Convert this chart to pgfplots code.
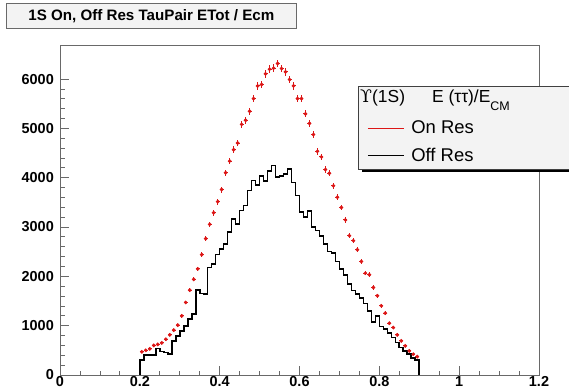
\documentclass[border=0pt]{standalone}
\usepackage{fontspec}
\setmainfont{Liberation Sans}
\newfontfamily\greekserif{DejaVu Serif}
\usepackage{pgfplots}
\pgfplotsset{compat=1.18}
\usepackage{pgfplotstable}

\definecolor{onres}{RGB}{220,22,22}
\definecolor{boxfill}{RGB}{243,243,243}
\definecolor{framegray}{RGB}{105,105,105}

% On-resonance: bin centre and entries
\pgfplotstableread{
mid on
0.205 470
0.215 500
0.225 530
0.235 600
0.245 620
0.255 650
0.265 725
0.275 815
0.285 910
0.295 1010
0.305 1200
0.315 1470
0.325 1720
0.335 1940
0.345 2150
0.355 2440
0.365 2765
0.375 3055
0.385 3290
0.395 3515
0.405 3760
0.415 4100
0.425 4336
0.435 4566
0.445 4702
0.455 5081
0.465 5163
0.475 5346
0.485 5603
0.495 5860
0.505 5888
0.515 6105
0.525 6200
0.535 6220
0.545 6315
0.555 6213
0.565 6144
0.575 5990
0.585 5860
0.595 5603
0.605 5603
0.615 5295
0.625 5100
0.635 4875
0.645 4535
0.655 4420
0.665 4165
0.675 4090
0.685 3835
0.695 3604
0.705 3395
0.715 3144
0.725 2825
0.735 2724
0.745 2541
0.755 2303
0.765 2065
0.775 2033
0.785 1774
0.795 1606
0.805 1402
0.815 1254
0.825 1050
0.835 962
0.845 813
0.855 691
0.865 589
0.875 488
0.885 421
0.895 372
}\onres

% Off-resonance: histogram outline, bin low edges (closed to zero at both ends)
\pgfplotstableread{
edge off
0.20 0
0.20 300
0.21 400
0.22 400
0.23 410
0.24 535
0.25 474
0.26 454
0.27 420
0.28 691
0.29 793
0.30 894
0.31 996
0.32 1131
0.33 1233
0.34 1720
0.35 1650
0.36 1640
0.37 2181
0.38 2250
0.39 2440
0.40 2560
0.41 2650
0.42 2900
0.43 3164
0.44 3062
0.45 3333
0.46 3435
0.47 3740
0.48 3943
0.49 3855
0.50 4031
0.51 3930
0.52 4130
0.53 4248
0.54 4011
0.55 4030
0.56 4079
0.57 4180
0.58 3900
0.59 3640
0.60 3300
0.61 3200
0.62 3330
0.63 3000
0.64 2930
0.65 2820
0.66 2650
0.67 2500
0.68 2470
0.69 2300
0.70 2150
0.71 2030
0.72 1850
0.73 1710
0.74 1640
0.75 1560
0.76 1450
0.77 1300
0.78 1080
0.79 1200
0.80 980
0.81 930
0.82 850
0.83 760
0.84 660
0.85 560
0.86 490
0.87 420
0.88 350
0.89 300
0.90 300
0.90 0
}\offres

\begin{document}
\begin{tikzpicture}
\begin{axis}[
  at={(60bp,14bp)}, anchor=south west,
  scale only axis, width=479bp, height=330bp,
  xmin=0, xmax=1.2, ymin=0, ymax=6690,
  xtick={0,0.2,0.4,0.6,0.8,1,1.2},
  ytick={0,1000,2000,3000,4000,5000,6000},
  minor x tick num=3, minor y tick num=4,
  tick align=inside, tick pos=left,
  major tick length=9bp, minor tick length=4.5bp,
  axis line style={framegray, line width=0.8bp},
  every tick/.style={framegray, line width=0.8bp},
  ticklabel style={font=\bfseries\fontsize{14.5}{16}\selectfont},
  /pgf/number format/assume math mode=true,
  /pgf/number format/1000 sep={},
  xticklabel style={inner sep=1bp},
  yticklabel style={inner sep=1bp, xshift=-5bp},
  clip=false,
  legend cell align=left,
  legend image code/.code={\draw[#1] (0bp,0bp) -- (36bp,0bp);},
  legend style={at={(rel axis cs:0.641,0.776)}, anchor=north west,
    draw=none, fill=none, inner sep=0pt, row sep=9bp, column sep=5bp,
    font=\fontsize{18.5}{21}\selectfont, nodes={inner sep=2bp}},
]
% on resonance: points with statistical errors and bin-width bars
\addplot[forget plot, only marks, mark=*, mark size=1.7bp, onres,
  mark options={draw=onres, fill=onres},
  error bars/.cd, y dir=both, y explicit, x dir=both, x fixed=0.005,
  error mark=none, error bar style={onres, line width=1bp}]
  table[x=mid, y=on, y error expr=sqrt(\thisrow{on})] {\onres};
% off resonance: step histogram
\addplot[forget plot, const plot mark left, black, line width=1.6bp]
  table[x=edge, y=off] {\offres};

% legend box with drop shadow
\fill[black] (rel axis cs:0.6305,0.6152) rectangle (rel axis cs:1.115,0.8667);
\filldraw[fill=boxfill, draw=black!75, line width=0.6bp]
  (rel axis cs:0.6221,0.6242) rectangle (rel axis cs:1.1065,0.8758);
\node[anchor=base west, inner sep=0pt, font=\fontsize{17.5}{19}\selectfont]
  at (rel axis cs:0.6263,0.827)
  {{\greekserif ϒ}(1S)\hspace{27bp}E (ττ)/E\raisebox{-8bp}{\fontsize{12.5}{13}\selectfont CM}};

\addlegendimage{onres, line width=1.1bp}
\addlegendentry{On Res}
\addlegendimage{black, line width=1.1bp}
\addlegendentry{Off Res}
\end{axis}

% histogram title box
\node[draw=framegray, fill=boxfill, line width=0.7bp, minimum width=290bp,
  minimum height=25bp, anchor=north west, inner sep=0pt,
  font=\bfseries\fontsize{15.2}{17}\selectfont]
  at (6bp,386bp) {1S On, Off Res TauPair ETot / Ecm};

\pgfresetboundingbox
\path (0bp,0bp) rectangle (569bp,389bp);
\end{tikzpicture}
\end{document}
